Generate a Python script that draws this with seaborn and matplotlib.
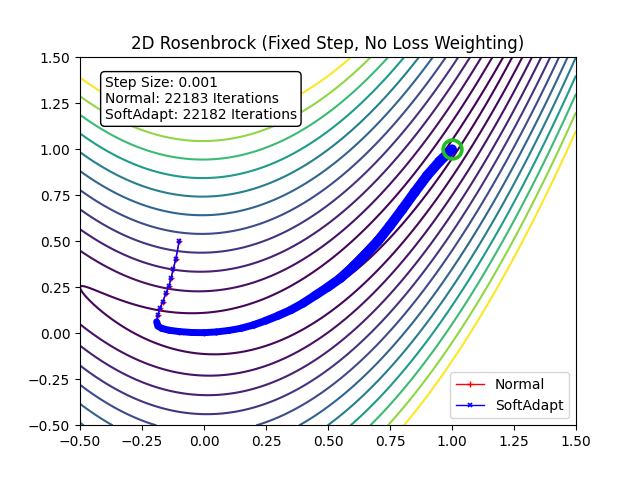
import numpy as np
import seaborn as sns
import matplotlib
matplotlib.use("Agg")
import matplotlib.pyplot as plt
from matplotlib.collections import LineCollection

# contour levels of the Rosenbrock surface
levels = [0.25, 2.25, 6.25, 12.25, 20.25, 30.25, 42.25, 56.25, 72.25, 90.25, 110.25, 132.25]

# optimiser paths
normal_x = [-0.100, -0.114, -0.124, -0.133, -0.142, -0.153, -0.167, -0.177, -0.187, -0.191,
            -0.186, -0.170, -0.140, -0.100, -0.050, 0.000, 0.050, 0.100, 0.150, 0.200,
            0.250, 0.300, 0.350, 0.400, 0.450, 0.500, 0.550, 0.600, 0.650, 0.700,
            0.750, 0.800, 0.850, 0.900, 0.950, 1.000]
normal_y = [0.500, 0.403, 0.349, 0.300, 0.257, 0.218, 0.172, 0.136, 0.099, 0.063,
            0.040, 0.027, 0.017, 0.010, 0.005, 0.004, 0.008, 0.016, 0.028, 0.046,
            0.070, 0.097, 0.127, 0.164, 0.208, 0.252, 0.300, 0.360, 0.428, 0.500,
            0.585, 0.675, 0.768, 0.858, 0.935, 1.000]
soft_x = list(normal_x)
soft_y = list(normal_y)
dense_from = 9  # iterations pile up after the corner of the valley

minimum = (1.0, 1.0)
info = "Step Size: 0.001\nNormal: 22183 Iterations\nSoftAdapt: 22182 Iterations"

gx = np.linspace(-0.5, 1.5, 400)
gy = np.linspace(-0.5, 1.5, 400)
X, Y = np.meshgrid(gx, gy)
Z = (1 - X) ** 2 + 100 * (Y - X ** 2) ** 2

fig, ax = plt.subplots(figsize=(6.4, 4.78), dpi=100)
ax.contour(X, Y, Z, levels=levels, cmap="viridis", linewidths=1.5)

sns.lineplot(x=normal_x, y=normal_y, sort=False, estimator=None, ax=ax,
             color="red", marker="+", markersize=5, markeredgecolor="red",
             markeredgewidth=1, linewidth=1, label="Normal")

# dense stretch where thousands of markers merge into a band
pts = np.column_stack([soft_x[dense_from:], soft_y[dense_from:]])
segs = np.stack([pts[:-1], pts[1:]], axis=1)
widths = np.interp(pts[:-1, 0], [0.1, 0.6], [5.0, 7.2])
band = LineCollection(segs, colors="blue", linewidths=widths, capstyle="round", zorder=3)
ax.add_collection(band)

sns.lineplot(x=soft_x, y=soft_y, sort=False, estimator=None, ax=ax,
             color="blue", marker="x", markersize=3, markeredgecolor="blue",
             markeredgewidth=1.2, linewidth=1, label="SoftAdapt")
ax.lines[-1].set_zorder(4)

ax.plot([minimum[0]], [minimum[1]], "o", markersize=13.5, markerfacecolor="none",
        markeredgecolor="#20c020", markeredgewidth=2.6, zorder=5)

ax.text(0.05, 0.95, info, transform=ax.transAxes, va="top", ha="left", fontsize=10,
        bbox=dict(boxstyle="round", facecolor="white", edgecolor="black"))

ax.set_xlim(-0.5, 1.5)
ax.set_ylim(-0.5, 1.5)
ax.set_title("2D Rosenbrock (Fixed Step, No Loss Weighting)")
ax.legend(loc="lower right")

fig.savefig("out.png", dpi=100)
